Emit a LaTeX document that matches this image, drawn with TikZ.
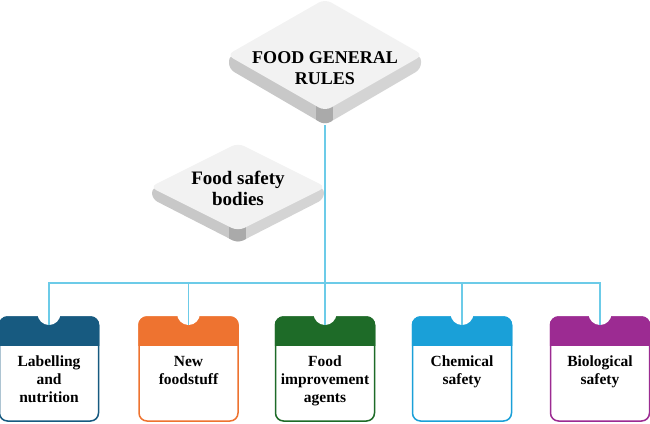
\documentclass[tikz,border=0pt]{standalone}
\usepackage{fontspec}
\setmainfont{Liberation Serif}
\usetikzlibrary{positioning}
\usepackage{xcolor}
\definecolor{labblue}{HTML}{175A80}
\definecolor{neworange}{HTML}{EE7330}
\definecolor{agentgreen}{HTML}{1E6B28}
\definecolor{chemblue}{HTML}{1AA0D8}
\definecolor{biopurple}{HTML}{9C2B92}
\definecolor{linkcyan}{HTML}{6CCBE8}
\definecolor{slabface}{HTML}{F2F2F2}
\definecolor{slableft}{HTML}{C8C8C8}
\definecolor{slabright}{HTML}{D4D4D4}
\definecolor{slabdark}{HTML}{AAAAAA}
\tikzset{
  link/.style={draw=linkcyan, line width=1.2pt},
  boxtext/.style={font=\bfseries\fontsize{15.5}{18}\selectfont, align=center, anchor=north, inner sep=0pt},
  slabtext/.style={font=\bfseries\fontsize{18}{20.5}\selectfont, align=center, inner sep=0pt},
}
\begin{document}
\begin{tikzpicture}[x=1pt, y=-1pt]
				\useasboundingbox (0,0) rectangle (650,423);
				% slabs
				\foreach \cx/\cy/\hw/\hh/\t/\nm in {325/55/98/56/14/rules, 238/187/88/44/12/bodies}{
					\begin{scope}
						\clip[rounded corners=6pt] (\cx-\hw+2,\cy) -- (\cx-\hw+2,\cy+\t) -- (\cx,\cy+\hh+\t) -- (\cx+\hw-2,\cy+\t) -- (\cx+\hw-2,\cy) -- cycle;
						\fill[slableft] (\cx-\hw,\cy) rectangle (\cx,\cy+\hh+\t);
						\fill[slabright] (\cx,\cy) rectangle (\cx+\hw,\cy+\hh+\t);
						\fill[slabdark] (\cx-9,\cy) rectangle (\cx+8,\cy+\hh+\t);
					\end{scope}
					\fill[slabface, rounded corners=7pt] (\cx-\hw,\cy) -- (\cx,\cy-\hh) -- (\cx+\hw,\cy) -- (\cx,\cy+\hh) -- cycle;
					\coordinate (\nm-bot) at (\cx,\cy+\hh+\t);
				}
				\node[slabtext] (rules) at (325,68) {FOOD GENERAL\\RULES};
				\node[slabtext, font=\bfseries\fontsize{19}{21}\selectfont] (bodies) at (238,188) {Food safety\\bodies};
				% boxes
				\foreach \cx/\col/\nm/\txt in {49/labblue/lab/{Labelling\\and\\nutrition}, 188.5/neworange/new/{New\\foodstuff}, 325/agentgreen/agent/{Food\\improvement\\agents}, 462/chemblue/chem/{Chemical\\safety}, 600/biopurple/bio/{Biological\\safety}}{
					\filldraw[draw=\col, fill=white, line width=1.5pt, rounded corners=8pt] (\cx-49.5,317) rectangle (\cx+49.5,421);
					\begin{scope}
						\clip (\cx-52,314) rectangle (\cx+52,345);
						\filldraw[draw=\col, fill=\col, line width=1.5pt, rounded corners=8pt] (\cx-49.5,317) rectangle (\cx+49.5,421);
					\end{scope}
					\fill[white] (\cx,313.5) circle (11.5);
					\node[boxtext] (\nm) at (\cx,356) {\txt};
					\coordinate (\nm-in) at (\cx,325);
				}
				% connectors
				\coordinate (hub) at (325,283);
				\draw[link] (rules-bot) -- (hub);
				\draw[link] (lab-in) |- (hub) -| (bio-in);
				\foreach \nm in {new, agent, chem} \draw[link] (\nm-in) -- (\nm-in |- hub);
			\end{tikzpicture}
\end{document}
